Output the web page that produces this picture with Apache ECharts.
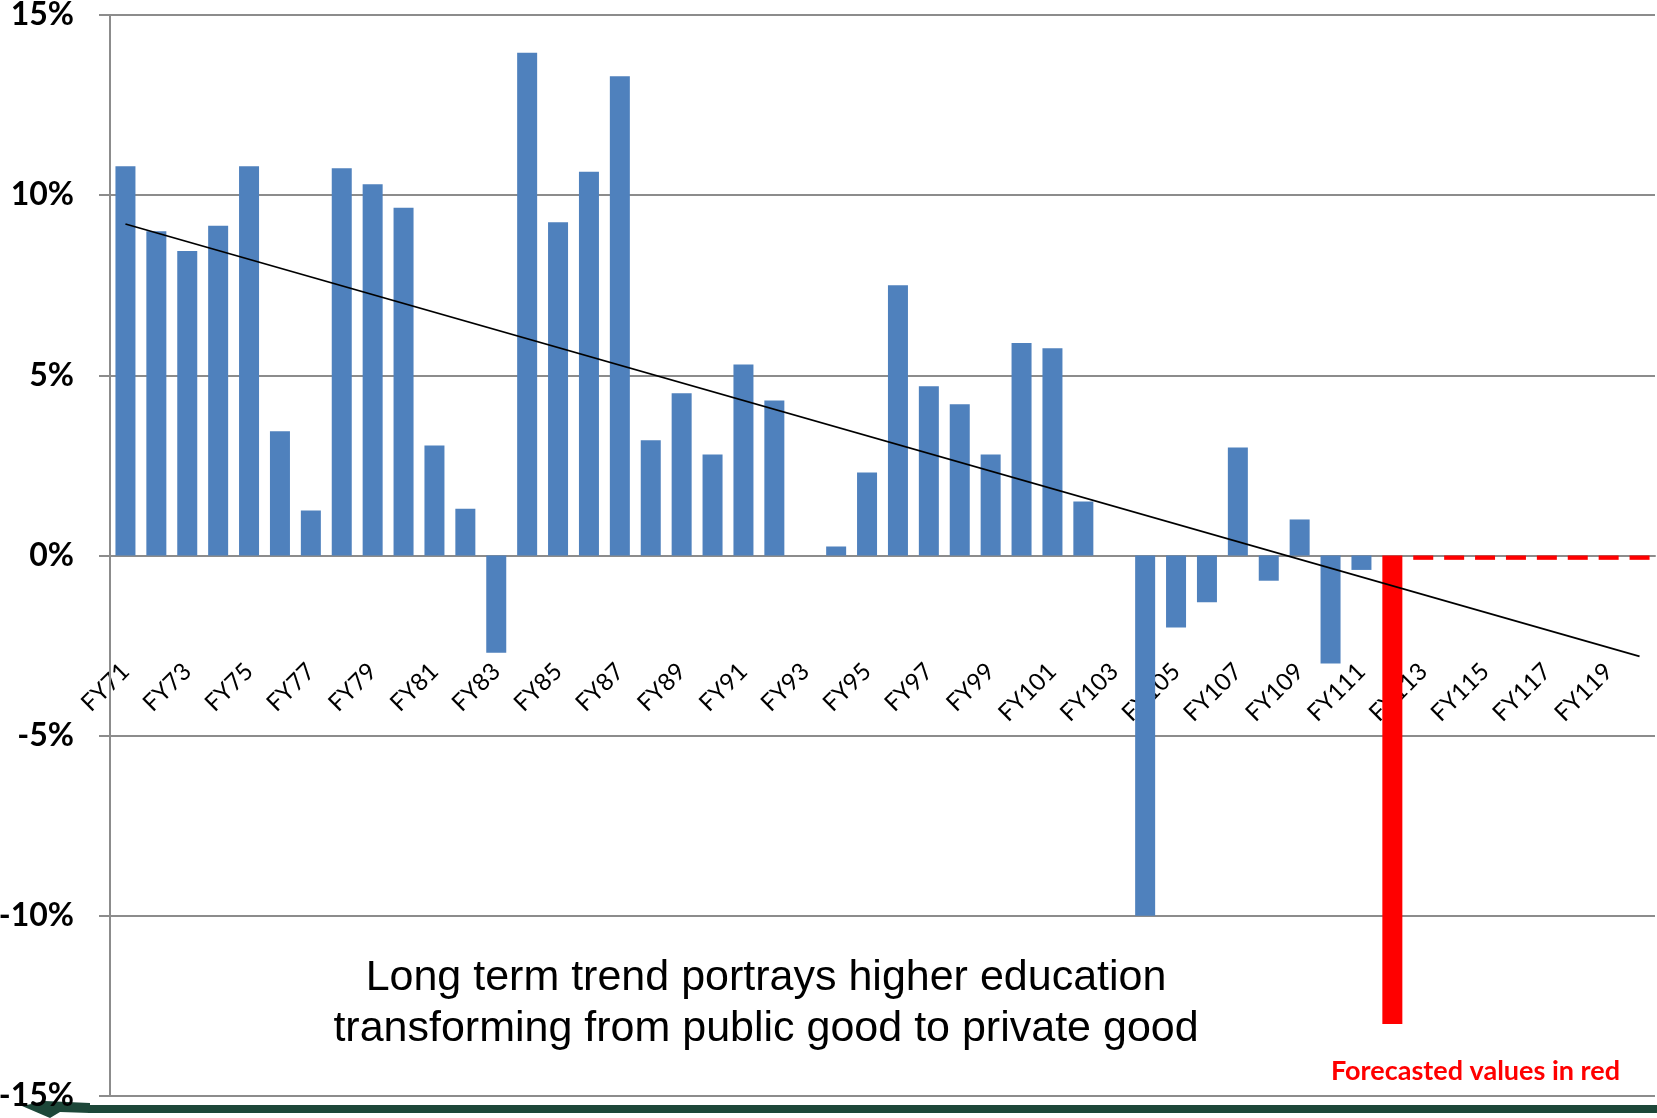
<!DOCTYPE html>
<html lang="en">
<head>
    <meta charset="UTF-8">
    <title>Annual change - FY71 to FY120</title>
    <script src="https://cdn.jsdelivr.net/npm/echarts@6/dist/echarts.min.js"></script>
    <style>
        * {
            margin: 0;
            padding: 0;
            box-sizing: border-box;
        }

        body {
            background: #ffffff;
        }

        #chart {
            width: 1657px;
            height: 1118px;
        }
    </style>
</head>
<body>
    <div id="chart"></div>

    <script>
        // fiscal years FY71 .. FY120
        const fiscalYears = [];
        for (let y = 71; y <= 120; y++) fiscalYears.push('FY' + y);

        // actual annual change (%), FY71 .. FY111
        const actualChange = [
            10.8, 9.0, 8.45, 9.15, 10.8, 3.45, 1.25, 10.75, 10.3, 9.65,
            3.05, 1.3, -2.7, 13.95, 9.25, 10.65, 13.3, 3.2, 4.5, 2.8,
            5.3, 4.3, 0, 0.25, 2.3, 7.5, 4.7, 4.2, 2.8, 5.9,
            5.75, 1.5, 0, -10.0, -2.0, -1.3, 3.0, -0.7, 1.0, -3.0,
            -0.4
        ];

        // forecast values (%), FY112 .. FY120
        const forecastChange = [-13.0, -0.12, -0.12, -0.12, -0.12, -0.12, -0.12, -0.12, -0.12];

        // trend line end points (%), at FY71 and FY120
        const trendEnds = [9.2, -2.8];

        const yTicks = [-15, -10, -5, 0, 5, 10, 15];

        const blueData = fiscalYears.map((_, i) => i < actualChange.length ? actualChange[i] : null);
        const redData = fiscalYears.map((_, i) => i >= actualChange.length ? forecastChange[i - actualChange.length] : null);

        const gray = '#8c8c8c';
        const gridTop = 15, gridBottom = 22, chartHeight = 1118;
        const yMin = yTicks[0], yMax = yTicks[yTicks.length - 1];
        // move the category axis up to the 0% line
        const zeroOffset = -(chartHeight - gridTop - gridBottom) * (0 - yMin) / (yMax - yMin);

        const chart = echarts.init(document.getElementById('chart'));
        chart.setOption({
            animation: false,
            grid: {
                left: 110,
                right: 2,
                top: gridTop,
                bottom: gridBottom,
                containLabel: false,
                outerBoundsMode: 'none'
            },
            xAxis: {
                type: 'category',
                data: fiscalYears,
                offset: zeroOffset,
                axisLine: { onZero: false, lineStyle: { color: gray, width: 2 } },
                axisTick: { interval: 0, length: 8, lineStyle: { color: gray, width: 2 } },
                axisLabel: {
                    interval: 1,
                    rotate: 45,
                    margin: 112,
                    fontFamily: 'Lato, "Noto Sans", sans-serif',
                    fontSize: 24,
                    color: '#000'
                },
                splitLine: { show: false }
            },
            yAxis: {
                type: 'value',
                min: yMin,
                max: yMax,
                interval: 5,
                z: 5,
                axisLine: { show: true, lineStyle: { color: gray, width: 2 } },
                axisTick: { show: true, length: 11, lineStyle: { color: gray, width: 2 } },
                axisLabel: {
                    margin: 36,
                    formatter: '{value}%',
                    fontFamily: 'Lato, "Noto Sans", sans-serif',
                    fontWeight: 'bold',
                    fontSize: 32,
                    color: '#000'
                },
                splitLine: { lineStyle: { color: gray, width: 2 } }
            },
            series: [
                {
                    name: 'Actual',
                    type: 'bar',
                    zlevel: 1,
                    data: blueData,
                    barWidth: 20,
                    barGap: '-100%',
                    itemStyle: { color: '#4f81bd' }
                },
                {
                    name: 'Forecast',
                    type: 'bar',
                    zlevel: 1,
                    data: redData,
                    barWidth: 20,
                    barGap: '-100%',
                    itemStyle: { color: '#ff0000' }
                },
                {
                    name: 'Trend',
                    type: 'line',
                    zlevel: 1,
                    data: [[fiscalYears[0], trendEnds[0]], [fiscalYears[fiscalYears.length - 1], trendEnds[1]]],
                    symbol: 'none',
                    lineStyle: { color: '#000', width: 1.8 },
                    z: 4
                }
            ],
            graphic: [
                {
                    type: 'polygon',
                    z: 0,
                    shape: { points: [[22, 1106], [45, 1101], [90, 1103], [90, 1113], [60, 1112], [50, 1118]] },
                    style: { fill: '#1d4739' }
                },
                {
                    type: 'rect',
                    z: 0,
                    shape: { x: 88, y: 1105, width: 1570, height: 8 },
                    style: { fill: '#1d4739' }
                },
                {
                    type: 'text',
                    x: 766,
                    y: 978,
                    style: {
                        text: 'Long term trend portrays higher education',
                        fontFamily: '"Liberation Sans", Arial, sans-serif',
                        fontSize: 43,
                        fill: '#000',
                        align: 'center',
                        verticalAlign: 'middle'
                    }
                },
                {
                    type: 'text',
                    x: 766,
                    y: 1029,
                    style: {
                        text: 'transforming from public good to private good',
                        fontFamily: '"Liberation Sans", Arial, sans-serif',
                        fontSize: 43,
                        fill: '#000',
                        align: 'center',
                        verticalAlign: 'middle'
                    }
                },
                {
                    type: 'text',
                    x: 1620,
                    y: 1071,
                    style: {
                        text: 'Forecasted values in red',
                        fontFamily: 'Lato, "Noto Sans", sans-serif',
                        fontWeight: 'bold',
                        fontSize: 27,
                        fill: '#ff0000',
                        align: 'right',
                        verticalAlign: 'middle'
                    }
                }
            ]
        });

        window.addEventListener('resize', function() {
            chart.resize();
        });
    </script>
</body>
</html>
